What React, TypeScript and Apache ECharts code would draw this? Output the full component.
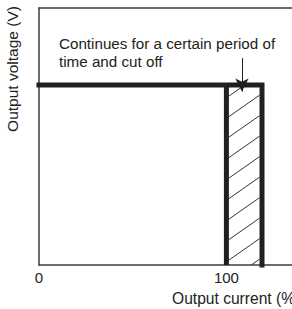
import React, { useEffect, useRef } from "react";
import * as echarts from "echarts";

// Data (output current %, output voltage relative %)
const currentTicks = [0, 100];
const outputCurve: number[][] = [
  [0, 70],
  [119, 70],
  [119, 0],
];
const ratedEdge: number[][] = [
  [100, 70],
  [100, 0],
];
// [xStart, xEnd, yBottom, yTop]
const cutoffRegion: number[][] = [[100, 119, 0, 70]];
const arrowFrom = [108.3, 80.5];
const arrowTo = [108.3, 67.5];
const xAxisTitle = "Output current (%)";
const yAxisTitle = "Output voltage (V)";
const noteText = "Continues for a certain period of\ntime and cut off";

const FONT = "'Liberation Sans', Arial, Helvetica, sans-serif";
const INK = "#231f20";
const AXIS = "#3c3c3c";

export default function App() {
  const ref = useRef<HTMLDivElement>(null);
  useEffect(() => {
    if (!ref.current) return;
    const chart = echarts.init(ref.current, undefined, { renderer: "svg" });
    const hatchRender = (params: any, api: any) => {
      const p1 = api.coord([api.value(0), api.value(3)]);
      const p2 = api.coord([api.value(1), api.value(2)]);
      const xl = p1[0] + 2.5;
      const xr = p2[0] - 2.5;
      const yt = p1[1];
      const yb = p2[1];
      const w = xr - xl;
      const m = 0.7;
      const spacing = 20.5;
      const phase = 116 - 84.5;
      const children: any[] = [];
      for (let k = -3; k < 40; k++) {
        const c = yt + phase + k * spacing; // y at left edge
        const cr = c - m * w; // y at right edge
        if (cr > yb) break;
        if (c < yt) continue;
        let x1 = xl, y1 = c, x2 = xr, y2 = cr;
        if (y1 > yb) {
          x1 = xl + (c - yb) / m;
          y1 = yb;
        }
        if (y2 < yt) {
          x2 = xl + (c - yt) / m;
          y2 = yt;
        }
        children.push({
          type: "line",
          shape: { x1, y1, x2, y2 },
          style: { stroke: "#333", lineWidth: 1 },
        });
      }
      return { type: "group", children };
    };
    chart.setOption({
      animation: false,
      backgroundColor: "#fff",
      grid: { left: 39, right: 0, top: 8, bottom: 44, containLabel: false },
      xAxis: [
        {
          type: "value",
          min: 0,
          max: 135,
          interval: 100,
          position: "bottom",
          axisLine: { show: true, lineStyle: { color: AXIS, width: 1.5 } },
          axisTick: { show: false },
          splitLine: { show: false },
          axisLabel: {
            show: true,
            margin: 5,
            fontSize: 15,
            fontFamily: FONT,
            color: "#222",
            showMaxLabel: false,
            formatter: (v: number) => (currentTicks.includes(v) ? String(v) : ""),
          },
        },
        {
          type: "value",
          min: 0,
          max: 135,
          position: "top",
          axisLine: { show: true, onZero: false, lineStyle: { color: AXIS, width: 1.5 } },
          axisTick: { show: false },
          axisLabel: { show: false },
          splitLine: { show: false },
        },
      ],
      yAxis: {
        type: "value",
        min: 0,
        max: 100,
        axisLine: { show: true, lineStyle: { color: AXIS, width: 1.5 } },
        axisTick: { show: false },
        axisLabel: { show: false },
        splitLine: { show: false },
      },
      graphic: [
        {
          type: "text",
          left: 172,
          top: 290,
          style: { text: xAxisTitle, fontSize: 15.6, fontFamily: FONT, fill: "#222" },
        },
        {
          type: "text",
          x: 12,
          y: 69,
          rotation: Math.PI / 2,
          style: {
            text: yAxisTitle,
            fontSize: 15.5,
            fontFamily: FONT,
            fill: "#222",
            align: "center",
            verticalAlign: "middle",
          },
        },
        {
          type: "text",
          left: 59,
          top: 34,
          style: {
            text: noteText,
            fontSize: 15.2,
            lineHeight: 18,
            fontFamily: FONT,
            fill: "#222",
          },
        },
      ],
      series: [
        {
          type: "custom",
          renderItem: hatchRender,
          data: cutoffRegion,
          clip: true,
          z: 1,
        },
        {
          type: "line",
          data: outputCurve,
          symbol: "none",
          lineStyle: { color: INK, width: 5, join: "miter", cap: "square" },
          clip: false,
          z: 3,
        },
        {
          type: "line",
          data: ratedEdge,
          symbol: "none",
          lineStyle: { color: INK, width: 5 },
          z: 3,
        },
        {
          type: "line",
          data: [],
          symbol: "none",
          z: 4,
          markLine: {
            silent: true,
            symbol: ["none", "arrow"],
            symbolSize: [10, 13],
            label: { show: false },
            lineStyle: { color: INK, width: 1, type: "solid" },
            data: [[{ coord: arrowFrom }, { coord: arrowTo }]],
          },
        },
      ],
    });
    return () => chart.dispose();
  }, []);
  return (
    <div
      ref={ref}
      style={{ position: "absolute", left: 0, top: 0, width: 292, height: 309 }}
    />
  );
}
